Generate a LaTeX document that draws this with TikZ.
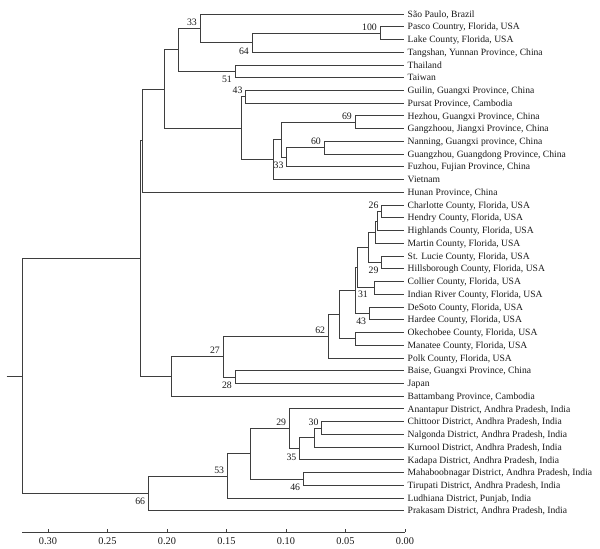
\documentclass[tikz,border=0pt]{standalone}
\usepackage{fontspec}
\setmainfont{Liberation Serif}
\usetikzlibrary{calc}
\definecolor{linec}{RGB}{62,62,62}
\definecolor{textc}{RGB}{25,25,25}
\newcommand\inode[4]{%
  \coordinate (tmpa) at ($(#3)!0.5!(#4)$);
  \coordinate (x#1) at (#2,0);
  \coordinate (#1) at (x#1 |- tmpa);
  \draw[br] (#1) |- (#3);
  \draw[br] (#1) |- (#4);
}
\begin{document}
\begin{tikzpicture}[x=1pt,y=-1pt,
  br/.style={line width=0.9pt, draw=linec},
  leaf/.style={anchor=west, inner xsep=3.5pt, inner ysep=0pt, text height=7.2pt, text depth=1pt,
    text=textc, font=\fontsize{9.6}{10}\selectfont},
  bsa/.style={anchor=base east, inner sep=0pt, xshift=-3pt, yshift=3pt, text=textc,
    font=\fontsize{9.8}{10}\selectfont},
  bsb/.style={anchor=base east, inner sep=0pt, xshift=-3pt, yshift=-11.5pt, text=textc,
    font=\fontsize{9.8}{10}\selectfont},
  tlab/.style={anchor=base, inner sep=0pt, text=textc, font=\fontsize{10.3}{10}\selectfont}]
\useasboundingbox (0,0) rectangle (600,549);
% leaves
\foreach \t [count=\i from 0] in {%
 {São Paulo, Brazil},
 {Pasco Country, Florida, USA},
 {Lake County, Florida, USA},
 {Tangshan, Yunnan Province, China},
 {Thailand},
 {Taiwan},
 {Guilin, Guangxi Province, China},
 {Pursat Province, Cambodia},
 {Hezhou, Guangxi Province, China},
 {Gangzhoou, Jiangxi Province, China},
 {Nanning, Guangxi province, China},
 {Guangzhou, Guangdong Province, China},
 {Fuzhou, Fujian Province, China},
 {Vietnam},
 {Hunan Province, China},
 {Charlotte County, Florida, USA},
 {Hendry County, Florida, USA},
 {Highlands County, Florida, USA},
 {Martin County, Florida, USA},
 {St. Lucie County, Florida, USA},
 {Hillsborough County, Florida, USA},
 {Collier County, Florida, USA},
 {Indian River County, Florida, USA},
 {DeSoto County, Florida, USA},
 {Hardee County, Florida, USA},
 {Okechobee County, Florida, USA},
 {Manatee County, Florida, USA},
 {Polk County, Florida, USA},
 {Baise, Guangxi Province, China},
 {Japan},
 {Battambang Province, Cambodia},
 {Anantapur District, Andhra Pradesh, India},
 {Chittoor District, Andhra Pradesh, India},
 {Nalgonda District, Andhra Pradesh, India},
 {Kurnool District, Andhra Pradesh, India},
 {Kadapa District, Andhra Pradesh, India},
 {Mahaboobnagar District, Andhra Pradesh, India},
 {Tirupati District, Andhra Pradesh, India},
 {Ludhiana District, Punjab, India},
 {Prakasam District, Andhra Pradesh, India}}
 {\node[leaf] (L\i) at (404,{14+12.74*\i}) {\t};}
% top clade
\inode{n100}{380}{L1}{L2}
\inode{n64}{252}{n100}{L3}
\inode{n33a}{200}{L0}{n64}
\inode{n51}{235}{L4}{L5}
\inode{nA}{178}{n33a}{n51}
\inode{n43a}{245.7}{L6}{L7}
\inode{n69}{355}{L8}{L9}
\inode{n60}{324}{L10}{L11}
\inode{n33b}{286.7}{n60}{L12}
\inode{nB}{281.7}{n69}{n33b}
\inode{nC}{273}{nB}{L13}
\inode{nD}{241.7}{n43a}{nC}
\inode{nE}{164}{nA}{nD}
\inode{nF}{142}{nE}{L14}
% Florida clade
\inode{n26}{381.7}{L15}{L16}
\inode{nG}{377.7}{n26}{L17}
\inode{nH}{375}{nG}{L18}
\inode{n29a}{381.7}{L19}{L20}
\inode{nI}{368.3}{nH}{n29a}
\inode{n31}{374}{L21}{L22}
\inode{nJ}{357.3}{nI}{n31}
\inode{n43b}{369.3}{L23}{L24}
\inode{nK}{355}{nJ}{n43b}
\inode{nL}{355.7}{L25}{L26}
\inode{nM}{339.3}{nK}{nL}
\inode{n62}{328.3}{nM}{L27}
\inode{n28}{235}{L28}{L29}
\inode{n27}{223}{n62}{n28}
\inode{nN}{171}{n27}{L30}
\inode{nO}{140}{nF}{nN}
% India clade
\inode{n30}{321.7}{L32}{L33}
\inode{nP}{314}{n30}{L34}
\inode{n35}{299.5}{nP}{L35}
\inode{n29b}{289.3}{L31}{n35}
\inode{n46}{303.3}{L36}{L37}
\inode{nQ}{250.7}{n29b}{n46}
\inode{n53}{227.3}{nQ}{L38}
\inode{n66}{148.3}{n53}{L39}
\inode{root}{22}{nO}{n66}
\coordinate (xs) at (6.7,0);
\draw[br] (xs |- root) -- (root);
% bootstrap values
\node[bsa] (b100) at (n100) {100};
\node[bsb] (b64) at (n64) {64};
\node[bsa] (b33a) at (n33a) {33};
\node[bsb] (b51) at (n51) {51};
\node[bsa] (b43a) at (n43a) {43};
\node[bsa] (b69) at (n69) {69};
\node[bsa] (b60) at (n60) {60};
\node[bsb] (b33b) at (n33b) {33};
\node[bsa] (b26) at (n26) {26};
\node[bsb] (b29a) at (n29a) {29};
\node[bsb, xshift=-3pt, yshift=2pt] (b31) at (n31) {31};
\node[bsb] (b43b) at (n43b) {43};
\node[bsa] (b62) at (n62) {62};
\node[bsa] (b27) at (n27) {27};
\node[bsb] (b28) at (n28) {28};
\node[bsa] (b29b) at (n29b) {29};
\node[bsa] (b30) at (n30) {30};
\node[bsb] (b35) at (n35) {35};
\node[bsb] (b46) at (n46) {46};
\node[bsa] (b53) at (n53) {53};
\node[bsb] (b66) at (n66) {66};
% axis
\coordinate (ax0) at (22,532);
\coordinate (ax1) at (405,532);
\draw[br] (ax0) -- (ax1);
\foreach \v/\t [count=\i] in {0/0.00,0.05/0.05,0.10/0.10,0.15/0.15,0.20/0.20,0.25/0.25,0.30/0.30}{
  \coordinate (tk\i) at ({405-1190*\v},532);
  \coordinate (tt\i) at ({405-1190*\v},529);
  \draw[br] (tk\i) -- (tt\i);
  \node[tlab] (tl\i) at ({405-1190*\v},544.5) {\t};
}
\end{tikzpicture}
\end{document}
